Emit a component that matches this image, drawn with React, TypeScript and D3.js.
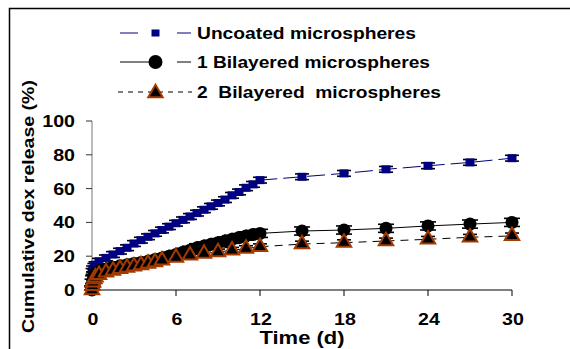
import * as d3 from 'd3'

// sampling days
const times1 = [0, 0.04, 0.08, 0.17, 0.25, 0.5, 1, 1.5, 2, 2.5, 3, 3.5, 4, 4.5, 5, 5.5, 6, 6.5, 7, 7.5, 8, 8.5, 9, 9.5, 10, 10.5, 11, 11.5, 12, 15, 18, 21, 24, 27, 30]
const uncoated = [0, 11, 12.5, 14, 15, 17, 19, 21, 23, 25, 27.5, 29.5, 31.5, 33.5, 35.5, 37.5, 39.5, 41.5, 43.5, 45.5, 47.5, 49.5, 51.5, 53.5, 56, 58, 60.5, 62.5, 65, 67, 69, 71.4, 73.5, 75.5, 78]
const bilayer1 = [0, 4, 6, 8, 9.5, 11, 12.5, 13.5, 14.3, 15, 15.7, 16.3, 17, 18, 19, 20, 21, 22.3, 23.5, 25, 26, 27, 28, 29, 30, 31, 32, 32.8, 33.5, 34.9, 35.5, 36.5, 37.9, 39, 40]

const times2 = [0, 0.04, 0.08, 0.17, 0.25, 0.5, 1, 1.5, 2, 2.5, 3, 3.5, 4, 4.5, 5, 6, 7, 8, 9, 10, 11, 12, 15, 18, 21, 24, 27, 30]
const bilayer2 = [0, 2.5, 4.5, 6.5, 7.5, 9, 10.5, 11.5, 12.5, 13.3, 14, 14.8, 15.6, 16.5, 17.5, 19.2, 20.5, 21.5, 22.5, 23.5, 24.5, 25.6, 27.2, 28, 29, 30, 31.2, 32]

// error bar half-widths (%)
const errUncoated = 1.7
const errBilayer1 = 2.4
const errBilayer2 = 1.7

const xTicks = [0, 6, 12, 18, 24, 30]
const yTicks = [0, 20, 40, 60, 80, 100]
const legendLabels = ['Uncoated microspheres', '1 Bilayered microspheres', '2  Bilayered  microspheres']

const W = 570
const H = 349
const NAVY = '#000080'
const BROWN = '#a33a00'
const FONT = 'Arial, "Liberation Sans", sans-serif'

type Pt = { t: number; v: number }

export default function App() {
  const x = d3.scaleLinear().domain([0, 30]).range([92, 512])
  const y = d3.scaleLinear().domain([0, 100]).range([290, 121])

  const s0: Pt[] = times1.map((t, i) => ({ t, v: uncoated[i] })).filter(d => d.t > 0)
  const s1: Pt[] = times1.map((t, i) => ({ t, v: bilayer1[i] }))
  const s2: Pt[] = times2.map((t, i) => ({ t, v: bilayer2[i] }))

  const line = d3.line<Pt>().x(d => x(d.t)).y(d => y(d.v))
  const tri = d3.symbol(d3.symbolTriangle, 90)()

  const errBars = (pts: Pt[], e: number, cap: number) =>
    pts.map((d, i) => {
      const cx = x(d.t)
      const y1 = y(d.v + e)
      const y2 = y(Math.max(0, d.v - e))
      return (
        <g key={i} stroke="#000" strokeWidth={1.6}>
          <line x1={cx} x2={cx} y1={y1} y2={y2} strokeWidth={1} />
          <line x1={cx - cap / 2} x2={cx + cap / 2} y1={y1} y2={y1} />
          <line x1={cx - cap / 2} x2={cx + cap / 2} y1={y2} y2={y2} />
        </g>
      )
    })

  const rows = [33, 62, 92]
  const textW = [219, 233, 244]

  return (
    <svg width={W} height={H} style={{ position: 'absolute', left: 0, top: 0, background: '#fff' }} fontFamily={FONT}>
      <rect x={9.5} y={8.5} width={620} height={400} fill="none" stroke="#000" strokeWidth={1.5} />

      {/* legend */}
      <g>
        <line x1={120} x2={138} y1={rows[0]} y2={rows[0]} stroke={NAVY} strokeWidth={1} />
        <line x1={177} x2={191} y1={rows[0]} y2={rows[0]} stroke={NAVY} strokeWidth={1} />
        <rect x={151.5} y={rows[0] - 3.5} width={8} height={7} fill={NAVY} />

        <line x1={120} x2={155} y1={rows[1]} y2={rows[1]} stroke="#000" strokeWidth={1} />
        <line x1={177} x2={191} y1={rows[1]} y2={rows[1]} stroke="#000" strokeWidth={1} />
        <circle cx={155.5} cy={rows[1]} r={7} fill="#000" />

        <line x1={118} x2={192} y1={rows[2]} y2={rows[2]} stroke="#000" strokeWidth={1} strokeDasharray="5,5" />
        <path d={tri} transform={`translate(155.5,${rows[2] + 1})`} fill="#000" stroke={BROWN} strokeWidth={2} />

        {legendLabels.map((l, i) => (
          <text key={l} x={197} y={rows[i] + 5.5} fontSize={17} fontWeight="bold" textLength={textW[i]} lengthAdjust="spacingAndGlyphs" style={{ whiteSpace: 'pre' }}>
            {l}
          </text>
        ))}
      </g>

      {/* axes */}
      <line x1={92} x2={92} y1={y(100)} y2={y(0)} stroke="#777" strokeWidth={1} />
      {yTicks.map(t => (
        <g key={t}>
          <line x1={86} x2={92} y1={y(t)} y2={y(t)} stroke="#333" strokeWidth={1} />
          <text x={75} y={y(t) + 6} textAnchor="end" fontSize={17} fontWeight="bold" textLength={String(t).length * 10.9} lengthAdjust="spacingAndGlyphs">
            {t}
          </text>
        </g>
      ))}
      <line x1={92} x2={512} y1={y(0)} y2={y(0)} stroke="#000" strokeWidth={1} />
      {xTicks.map(t => (
        <g key={t}>
          <line x1={x(t)} x2={x(t)} y1={y(0)} y2={y(0) + 6} stroke="#000" strokeWidth={1} />
          <text x={x(t) + 1} y={325} textAnchor="middle" fontSize={17} fontWeight="bold" textLength={String(t).length * 10.9} lengthAdjust="spacingAndGlyphs">
            {t}
          </text>
        </g>
      ))}
      <text x={302} y={344} textAnchor="middle" fontSize={18} fontWeight="bold" textLength={85} lengthAdjust="spacingAndGlyphs">
        Time (d)
      </text>
      <text transform="translate(34,206.5) rotate(-90)" textAnchor="middle" fontSize={17} fontWeight="bold" textLength={253} lengthAdjust="spacingAndGlyphs">
        Cumulative dex release (%)
      </text>

      {/* uncoated */}
      <path d={line(s0) ?? ''} fill="none" stroke={NAVY} strokeWidth={1} strokeDasharray="18,6" />
      {errBars(s0, errUncoated, 14)}
      {s0.map((d, i) => (
        <rect key={i} x={x(d.t) - 4.5} y={y(d.v) - 4} width={9} height={8} fill={NAVY} />
      ))}

      {/* 1 bilayered */}
      <path d={line(s1) ?? ''} fill="none" stroke="#000" strokeWidth={1} />
      {errBars(s1, errBilayer1, 16)}
      {s1.map((d, i) => (
        <circle key={i} cx={x(d.t)} cy={y(d.v)} r={6.5} fill="#000" />
      ))}

      {/* 2 bilayered */}
      <path d={line(s2) ?? ''} fill="none" stroke="#000" strokeWidth={1} strokeDasharray="8,6" />
      {errBars(s2, errBilayer2, 14)}
      {s2.map((d, i) => (
        <path key={i} d={tri} transform={`translate(${x(d.t)},${y(d.v)})`} fill="#000" stroke={BROWN} strokeWidth={2} />
      ))}
    </svg>
  )
}
